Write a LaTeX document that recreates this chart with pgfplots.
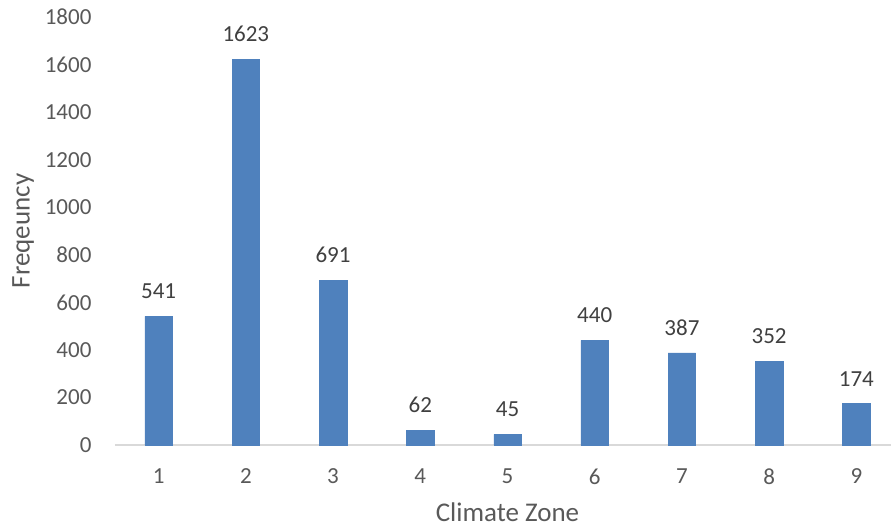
\documentclass[border=0pt]{standalone}
\usepackage{pgfplots}
\pgfplotsset{compat=1.18}
\usepackage{fontspec}
\setmainfont{Carlito}
\definecolor{barblue}{HTML}{4F81BD}
\definecolor{txt}{HTML}{595959}
\definecolor{lbl}{HTML}{404040}
\definecolor{axline}{HTML}{D9D9D9}
\begin{document}
\begin{tikzpicture}
\begin{axis}[
  scale only axis,
  width=785pt, height=428pt,
  xmin=0.5, xmax=9.5,
  ymin=0, ymax=1800,
  ytick={0,200,...,1800},
  xtick={1,...,9},
  ybar, bar width=0.315,
  axis x line*=bottom,
  axis y line*=left,
  x axis line style={axline, line width=1.2pt, -},
  y axis line style={draw=none},
  major tick length=0pt,
  tick label style={text=txt, font=\fontsize{23}{27}\selectfont},
  /pgf/number format/assume math mode=true,
  /pgf/number format/1000 sep={},
  yticklabel style={xshift=-20pt},
  xticklabel style={yshift=-20pt},
  xlabel={Climate Zone},
  ylabel={Freqeuncy},
  label style={text=txt, font=\fontsize{27}{31}\selectfont},
  xlabel style={yshift=-11pt},
  ylabel style={yshift=4pt},
  nodes near coords,
  every node near coord/.append style={text=lbl, font=\fontsize{23}{27}\selectfont, yshift=14pt},
  clip=false,
]
\addplot[fill=barblue, draw=barblue] coordinates {
(1,541) (2,1623) (3,691) (4,62) (5,45) (6,440) (7,387) (8,352) (9,174)};
\coordinate (O) at (rel axis cs:0,0);
\end{axis}
\pgfresetboundingbox
\path (O) ++(-115pt,-86pt) rectangle ++(891pt,531pt);
\end{tikzpicture}
\end{document}
